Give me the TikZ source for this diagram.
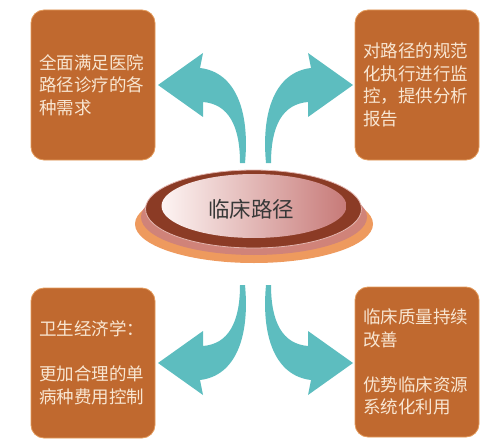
\documentclass[tikz,border=0pt]{standalone}
\usepackage{fontspec}
\setmainfont{Noto Sans CJK SC}
\definecolor{boxfill}{HTML}{C0692F}
\definecolor{boxline}{HTML}{E39A5A}
\definecolor{boxtext}{HTML}{F8E6D2}
\definecolor{teal}{HTML}{5DBDBF}
\definecolor{baseorange}{HTML}{EE9A5E}
\definecolor{rimpink}{HTML}{D08379}
\definecolor{ringbrown}{HTML}{8B3B25}
\definecolor{facelight}{HTML}{FDF4F3}
\definecolor{facedark}{HTML}{C77A78}
\tikzset{
  infobox/.style={draw=boxline, line width=0.8pt, fill=boxfill, rounded corners=13pt,
    minimum width=124pt, minimum height=150pt, text width=108pt, inner sep=8pt,
    align=left, text=boxtext, font=\fontsize{17.5}{22.5}\selectfont},
}
\begin{document}
\begin{tikzpicture}[x=1pt,y=-1pt]
    \useasboundingbox (0,0) rectangle (500,441);
    % the four boxes
    \node[infobox] (tl) at (93,85) {全面满足医院\\路径诊疗的各\\种需求};
    \node[infobox] (tr) at (417,85) {对路径的规范\\化执行进行监\\控，提供分析\\报告};
    \node[infobox] (bl) at (93,363) {卫生经济学：\\[22.5pt]更加合理的单\\病种费用控制};
    \node[infobox] (br) at (417,362) {临床质量持续\\改善\\[22.5pt]优势临床资源\\系统化利用};
    % curved arrows, one shape mirrored four times
    \foreach \sx/\sy in {1/1,-1/1,1/-1,-1/-1}{
    \begin{scope}[shift={({(1-\sx)*255.5},{(1-\sy)*224})}, xscale=\sx, yscale=\sy]
        \fill[teal] (158,85) -- (203,53) -- (200,68)
            .. controls (235,72) and (250,110) .. (245,163)
            -- (240,163)
            .. controls (240,125) and (228,104) .. (203,102)
            -- (203,117) -- cycle;
    \end{scope}
    }
    % the disc in the middle
    \fill[baseorange] (254,224) ellipse [x radius=119, y radius=39];
    \fill[rimpink] (254,217) ellipse [x radius=113, y radius=38];
    \draw[rimpink!60!white, line width=0.8pt, fill=ringbrown] (253.5,209) ellipse [x radius=108, y radius=39];
    \shade[left color=facelight, right color=facedark] (254,206) ellipse [x radius=92.5, y radius=32];
    \node[text=black!78, font=\fontsize{21.5}{24}\selectfont] (core) at (251,209) {临床路径};
\end{tikzpicture}
\end{document}
